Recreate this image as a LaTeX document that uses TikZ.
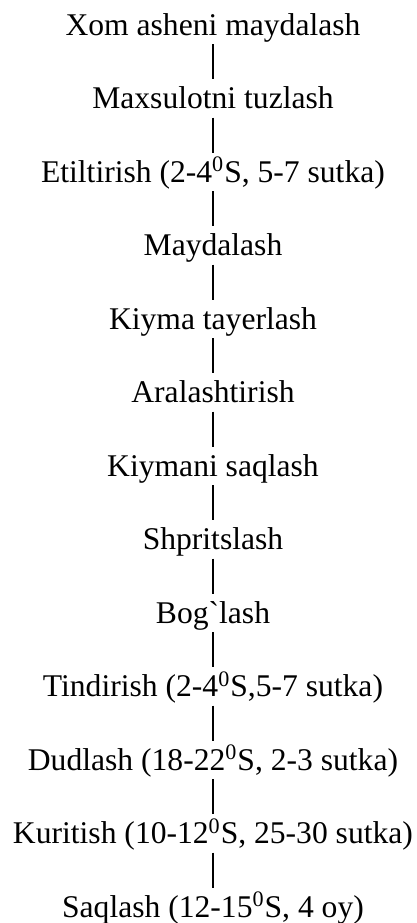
\documentclass[tikz,border=0pt]{standalone}
\usepackage{fontspec}
\setmainfont{Liberation Serif}
\usetikzlibrary{positioning}
\begin{document}
\begin{tikzpicture}
  [-, line width=1.2pt, node distance=36.75pt,
    stage/.style={%
      rectangle, inner sep=0pt, text height=14pt, text depth=4pt,
      font=\fontsize{15.8}{18}\selectfont
    },
  ]
  \useasboundingbox (0,0) rectangle (208.5pt,-461.5pt);

  \node[stage, anchor=base] (s1) at (106.5pt,-17.5pt) {Xom asheni maydalash};
  \node[stage] (s2) [below of=s1] {Maxsulotni tuzlash};
  \node[stage] (s3) [below of=s2] {Etiltirish (2-4\textsuperscript{0}S, 5-7 sutka)};
  \node[stage] (s4) [below of=s3] {Maydalash};
  \node[stage] (s5) [below of=s4] {Kiyma tayerlash};
  \node[stage] (s6) [below of=s5] {Aralashtirish};
  \node[stage] (s7) [below of=s6] {Kiymani saqlash};
  \node[stage] (s8) [below of=s7] {Shpritslash};
  \node[stage] (s9) [below of=s8] {Bog\textasciigrave lash};
  \node[stage] (s10) [below of=s9] {Tindirish (2-4\textsuperscript{0}S,5-7 sutka)};
  \node[stage] (s11) [below of=s10] {Dudlash (18-22\textsuperscript{0}S, 2-3 sutka)};
  \node[stage] (s12) [below of=s11] {Kuritish (10-12\textsuperscript{0}S, 25-30 sutka)};
  \node[stage] (s13) [below of=s12] {Saqlash (12-15\textsuperscript{0}S, 4 oy)};

  \foreach \a [count=\b from 2] in {1,...,12}
    \draw (s\a) -- (s\b);

\end{tikzpicture}
\end{document}
